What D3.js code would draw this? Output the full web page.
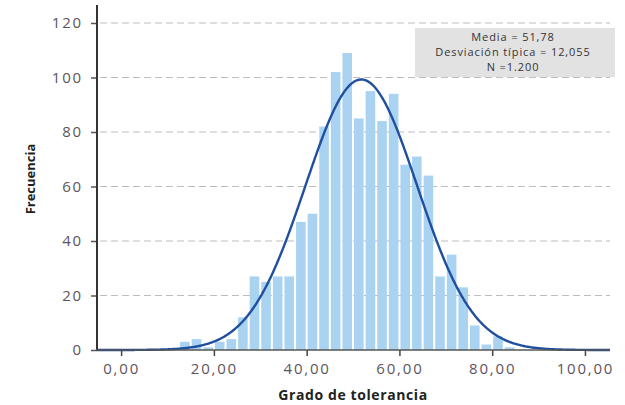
<!DOCTYPE html>
<html>
<head>
<meta charset="utf-8">
<script src="https://cdn.jsdelivr.net/npm/d3@7"></script>
<style>
  html, body { margin: 0; padding: 0; background: #fff; }
  svg { display: block; }
</style>
</head>
<body>
<svg id="chart" width="625" height="405"></svg>
<script>
// ---- data ----
const binStarts = [12.5, 15, 17.5, 20, 22.5, 25, 27.5, 30, 32.5, 35, 37.5, 40, 42.5, 45, 47.5, 50,
                   52.5, 55, 57.5, 60, 62.5, 65, 67.5, 70, 72.5, 75, 77.5, 80, 82.5];
const counts    = [3, 4, 1, 3, 4, 12, 27, 25, 27, 27, 47, 50, 82, 102, 109, 85,
                   95, 84, 94, 68, 71, 64, 27, 35, 23, 9, 2, 5, 1];
const binWidth = 2.5;
const mean = 51.78, sd = 12.055, total = 1200;
const yTicks = [0, 20, 40, 60, 80, 100, 120];
const xTicks = [0, 20, 40, 60, 80, 100];
const legendLines = ["Media = 51,78", "Desviación típica = 12,055", "N =1.200"];
const xTitle = "Grado de tolerancia";
const yTitle = "Frecuencia";

// ---- scales ----
const svg = d3.select("#chart");
const x = d3.scaleLinear().domain([-5.2, 105.4]).range([97, 610]);
const y = d3.scaleLinear().domain([0, 120]).range([350, 23]);
const fmt = v => d3.format(".2f")(v).replace(".", ",");

// grid
svg.append("g").selectAll("line").data(yTicks.filter(d => d > 0)).join("line")
  .attr("x1", 100).attr("x2", 610)
  .attr("y1", d => y(d)).attr("y2", d => y(d))
  .attr("stroke", "#bdbdbd").attr("stroke-width", 1.2)
  .attr("stroke-dasharray", "7,4");

// bars
svg.append("g").selectAll("rect").data(binStarts.map((s, i) => ({s, c: counts[i]}))).join("rect")
  .attr("x", d => x(d.s) + 1)
  .attr("width", d => x(d.s + binWidth) - x(d.s) - 2)
  .attr("y", d => y(d.c))
  .attr("height", d => y(0) - y(d.c))
  .attr("fill", "#aad3f2");

// normal curve
const curveX = d3.range(-5.2, 105.4001, 0.2);
const dens = v => total * binWidth / (sd * Math.sqrt(2 * Math.PI)) * Math.exp(-0.5 * ((v - mean) / sd) ** 2);
svg.append("path")
  .datum(curveX)
  .attr("d", d3.line().x(d => x(d)).y(d => y(dens(d))))
  .attr("fill", "none").attr("stroke", "#1f4f9e").attr("stroke-width", 2.4);

// y axis
const yAxis = svg.append("g").attr("transform", "translate(97,0)")
  .call(d3.axisLeft(y).tickValues(yTicks).tickSize(6).tickPadding(8).tickFormat(d3.format("d")));
yAxis.select(".domain").remove();
yAxis.append("line").attr("x1", 0).attr("x2", 0).attr("y1", 5).attr("y2", 351)
  .attr("stroke", "#333").attr("stroke-width", 2);
yAxis.selectAll(".tick line").attr("stroke", "#555").attr("stroke-width", 1.5);
yAxis.selectAll(".tick text").attr("fill", "#5c5560")
  .style("font-family", "'Open Sans', sans-serif").style("font-size", "15px").style("letter-spacing", "1.8px");

// x axis
const xAxis = svg.append("g").attr("transform", "translate(0,350)")
  .call(d3.axisBottom(x).tickValues(xTicks).tickSize(6).tickPadding(7).tickFormat(fmt));
xAxis.select(".domain").remove();
xAxis.append("line").attr("x1", 96).attr("x2", 610).attr("y1", 0).attr("y2", 0)
  .attr("stroke", "#555").attr("stroke-width", 1.6);
xAxis.selectAll(".tick line").attr("stroke", "#444").attr("stroke-width", 1.5);
xAxis.selectAll(".tick text").attr("fill", "#5c5560")
  .style("font-family", "'Open Sans', sans-serif").style("font-size", "15px").style("letter-spacing", "1.8px");

// titles
svg.append("text").attr("x", 353).attr("y", 400).attr("text-anchor", "middle")
  .style("font-family", "'Open Sans', sans-serif").style("font-size", "14px").style("font-weight", "bold")
  .style("letter-spacing", "0.6px")
  .attr("fill", "#222").text(xTitle);
svg.append("text").attr("transform", "translate(35,179) rotate(-90)").attr("text-anchor", "middle")
  .style("font-family", "'Open Sans', sans-serif").style("font-size", "13px").style("font-weight", "bold")
  .attr("fill", "#222").text(yTitle);

// legend box
svg.append("rect").attr("x", 415).attr("y", 28).attr("width", 200).attr("height", 49).attr("fill", "#e2e2e2");
svg.append("g").selectAll("text").data(legendLines).join("text")
  .attr("x", 513).attr("y", (d, i) => 41 + i * 15).attr("text-anchor", "middle")
  .style("font-family", "'Open Sans', sans-serif").style("font-size", "11px").style("letter-spacing", "0.9px")
  .attr("fill", "#333").text(d => d);
</script>
</body>
</html>
